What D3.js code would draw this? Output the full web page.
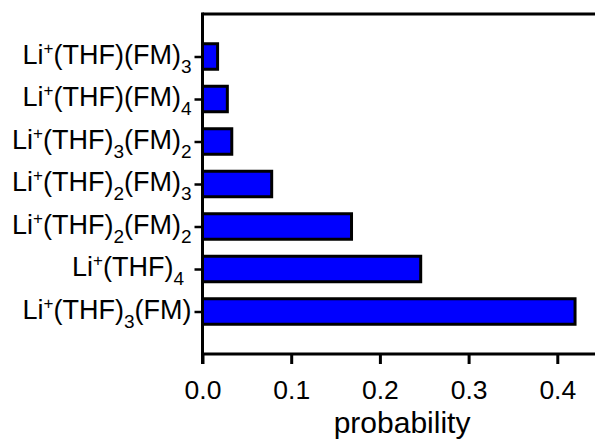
<!DOCTYPE html>
<html><head><meta charset="utf-8">
<script src="https://cdn.jsdelivr.net/npm/d3@7"></script>
<style>body{margin:0;background:#fff}svg{display:block}</style>
</head><body>
<svg id="c" width="595" height="441"></svg>
<script>
// categories, top to bottom; "^" = superscript, "_" = subscript
const categories = [
  "Li^+(THF)(FM)_3",
  "Li^+(THF)(FM)_4",
  "Li^+(THF)_3(FM)_2",
  "Li^+(THF)_2(FM)_3",
  "Li^+(THF)_2(FM)_2",
  "Li^+(THF)_4 ",
  "Li^+(THF)_3(FM)"
];
const values = [0.017, 0.028, 0.033, 0.078, 0.168, 0.246, 0.420];
const xTicks = [0.0, 0.1, 0.2, 0.3, 0.4];
const xTickLabels = ["0.0", "0.1", "0.2", "0.3", "0.4"];
const xTitle = "probability";

(function () {
const svg = d3.select("#c");
const font = "'Liberation Sans', Arial, sans-serif";
const mLeft = 202.5, mTop = 14, mBottom = 354;

const x = d3.scaleLinear().domain([0, 0.45]).range([mLeft, mLeft + 0.45 * 887]);
const y = d3.scalePoint().domain(categories).range([mTop, mBottom]).padding(1);
const barH = y.step() * 0.6;

// bars
svg.append("g").selectAll("rect").data(categories).join("rect")
  .attr("x", x(0))
  .attr("y", d => y(d) - barH / 2)
  .attr("width", (d, i) => x(values[i]) - x(0))
  .attr("height", barH)
  .attr("fill", "#0000ff")
  .attr("stroke", "#000")
  .attr("stroke-width", 3);

// top frame line
svg.append("line").attr("x1", mLeft).attr("x2", 595).attr("y1", mTop).attr("y2", mTop)
  .attr("stroke", "#000").attr("stroke-width", 3);

// x axis
const xAxis = d3.axisBottom(x).tickValues(xTicks)
  .tickFormat((d, i) => xTickLabels[i]).tickSize(10).tickSizeOuter(0).tickPadding(16);
const gx = svg.append("g").attr("transform", `translate(0,${mBottom})`).call(xAxis);
gx.select(".domain").attr("stroke-width", 3).attr("d", `M${mLeft - 1.5},0H600`);
gx.selectAll(".tick line").attr("stroke-width", 3);
gx.selectAll(".tick text").attr("font-family", font).attr("font-size", 26.5).attr("fill", "#000");

// y axis
const yAxis = d3.axisLeft(y).tickSize(8).tickSizeOuter(0).tickFormat("");
const gy = svg.append("g").attr("transform", `translate(${mLeft},0)`).call(yAxis);
gy.select(".domain").attr("stroke-width", 3).attr("d", `M0,${mTop - 1.5}V${mBottom + 10}`);
gy.selectAll(".tick line").attr("stroke-width", 2.5);

// y labels with sub/superscripts
const labels = svg.append("g");
categories.forEach(c => {
  const t = labels.append("text")
    .attr("x", mLeft - 11).attr("y", y(c) + 7)
    .attr("text-anchor", "end")
    .attr("font-family", font).attr("font-size", 27).attr("fill", "#000")
    .style("white-space", "pre");
  const re = /(\^.|_.|[^\^_]+)/g;
  let m, shift = 0;
  while ((m = re.exec(c)) !== null) {
    const s = m[0];
    if (s[0] === "^") {
      t.append("tspan").attr("dy", -10 - shift).attr("font-size", 17).text(s[1]);
      shift = -10;
    } else if (s[0] === "_") {
      t.append("tspan").attr("dy", 9 - shift).attr("font-size", 19).text(s[1]);
      shift = 9;
    } else {
      t.append("tspan").attr("dy", -shift).text(s);
      shift = 0;
    }
  }
});

// x title
svg.append("text").attr("x", x(0.225)).attr("y", 433).attr("text-anchor", "middle")
  .attr("font-family", font).attr("font-size", 30).attr("fill", "#000").text(xTitle);
})();
</script>
</body></html>
